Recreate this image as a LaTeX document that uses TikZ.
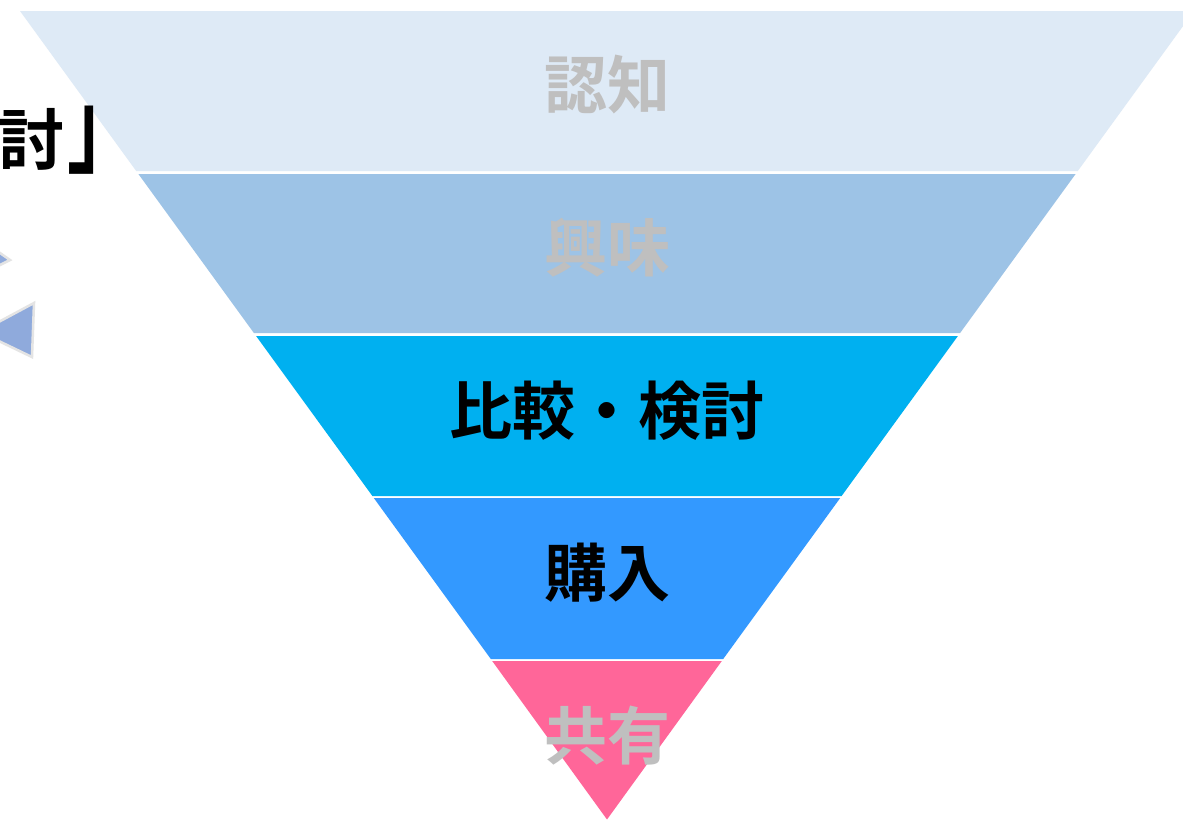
\documentclass[tikz,border=0pt]{standalone}
\usepackage{fontspec}
\usepackage{graphicx}
\newfontfamily\jp{Noto Sans CJK JP}[BoldFont={Noto Sans CJK JP Bold}]
\definecolor{band1}{HTML}{DEEAF6}
\definecolor{band2}{HTML}{9DC3E6}
\definecolor{band3}{HTML}{00B0F0}
\definecolor{band4}{HTML}{3399FF}
\definecolor{band5}{HTML}{FF6699}
\definecolor{lbl}{HTML}{BFBFBF}
\definecolor{arr}{HTML}{8FAADC}
\definecolor{arrline}{HTML}{E4E4E4}
\tikzset{
  lab/.style={font=\jp\bfseries\fontsize{63}{63}\selectfont, inner sep=0pt},
  graylab/.style={lab, text=lbl},
  blacklab/.style={lab, text=black},
  tri/.style={fill=arr, draw=arrline, line width=2.5pt, line join=miter}
}
\begin{document}
\begin{tikzpicture}[x=1pt,y=-1pt]
\useasboundingbox (0,0) rectangle (1183,819);
\fill[white] (0,0) rectangle (1183,819);
% funnel bands
\fill[band1] (20,11) -- (1194,11) -- (1077.8,171) -- (136.2,171) -- cycle;
\fill[band2] (138.4,174) -- (1075.6,174) -- (960.1,333) -- (253.9,333) -- cycle;
\fill[band3] (256.1,336) -- (957.9,336) -- (841.6,496) -- (372.4,496) -- cycle;
\fill[band4] (373.8,498) -- (840.2,498) -- (723.2,659) -- (490.8,659) -- cycle;
\fill[band5] (492.2,661) -- (721.8,661) -- (607,819.5) -- cycle;
% labels
\node[graylab] (l1) at (607,84) {認知};
\node[graylab] (l2) at (607,248) {興味};
\node[blacklab] (l3) at (607,411) {比較・検討};
\node[blacklab] (l4) at (607,573) {購入};
\node[graylab] (l5) at (607,736) {共有};
% partial title on the left
\node[blacklab, anchor=base west, font=\jp\bfseries\fontsize{66}{66}\selectfont] (title) at (-2,164) {討\hspace{3pt}\scalebox{1.1}[1.62]{」}};
% triangles at left edge
\draw[tri] (-10,246) -- (10,260) -- (-10,270) -- cycle;
\draw[tri] (34,303) -- (32,357) -- (-20,332) -- cycle;
\end{tikzpicture}
\end{document}
